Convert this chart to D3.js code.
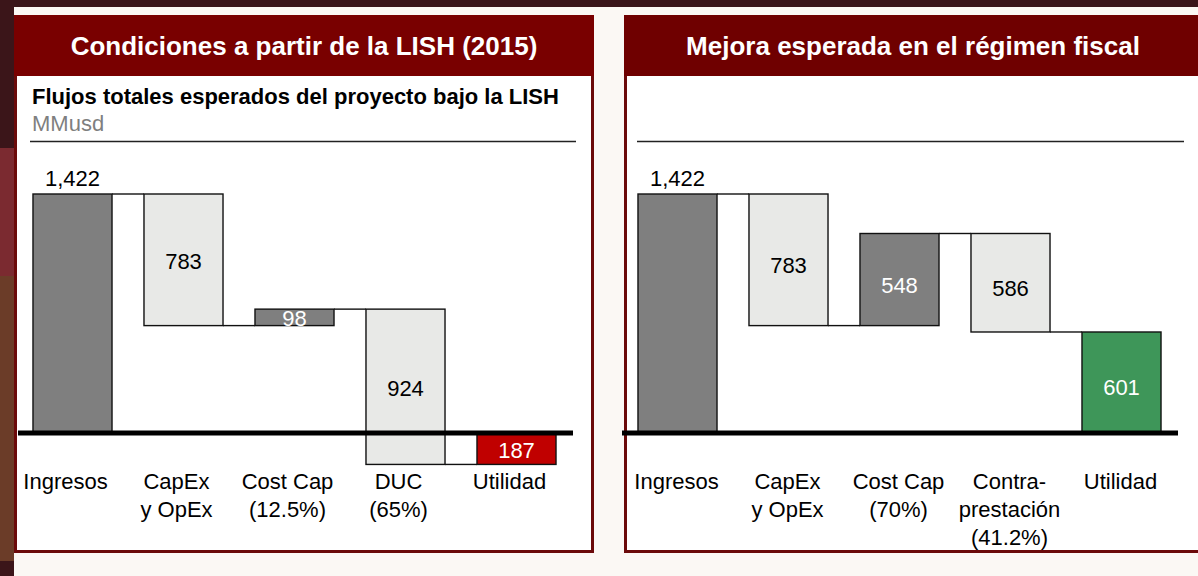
<!DOCTYPE html>
<html>
<head>
<meta charset="utf-8">
<script src="https://cdn.jsdelivr.net/npm/d3@7"></script>
<style>
  html, body { margin: 0; padding: 0; background: #fbf8f4; }
  svg { display: block; font-family: "Liberation Sans", Arial, sans-serif; }
</style>
</head>
<body>
<div id="chart"></div>
<script>
(function(){
// ---- data (MMusd) ----
const leftCategories = [["Ingresos"], ["CapEx", "y OpEx"], ["Cost Cap", "(12.5%)"], ["DUC", "(65%)"], ["Utilidad"]];
const leftValues = [1422, -783, 98, -924, -187];   // last one is the total
const leftLabels = ["1,422", "783", "98", "924", "187"];

const rightCategories = [["Ingresos"], ["CapEx", "y OpEx"], ["Cost Cap", "(70%)"], ["Contra-", "prestación", "(41.2%)"], ["Utilidad"]];
const rightValues = [1422, -783, 548, -586, 601];
const rightLabels = ["1,422", "783", "548", "586", "601"];

const leftColors = ["#7f7f7f", "#e8e9e7", "#7f7f7f", "#e8e9e7", "#c00000"];
const rightColors = ["#7f7f7f", "#e8e9e7", "#7f7f7f", "#e8e9e7", "#3e9659"];
const leftLabelColors = ["#000", "#000", "#fff", "#000", "#fff"];
const rightLabelColors = ["#000", "#000", "#fff", "#000", "#fff"];

const W = 1198, H = 576;

const svg = d3.select("#chart").append("svg")
    .attr("width", W)
    .attr("height", H);

// background bits of the slide
svg.append("rect").attr("width", W).attr("height", H).attr("fill", "#fbf8f4");
svg.append("rect").attr("width", W).attr("height", 7).attr("fill", "#3a1519");
svg.append("rect").attr("x", 0).attr("y", 0).attr("width", 14).attr("height", 148).attr("fill", "#3b1519");
svg.append("rect").attr("x", 0).attr("y", 148).attr("width", 14).attr("height", 128).attr("fill", "#7b2a30");
svg.append("rect").attr("x", 0).attr("y", 276).attr("width", 14).attr("height", 285).attr("fill", "#6b3c28");
svg.append("rect").attr("x", 0).attr("y", 561).attr("width", 14).attr("height", 15).attr("fill", "#3b1519");

// y scale shared by both panels (same zero line)
const y = d3.scaleLinear().domain([0, 1422]).range([433, 194]);

function panel(opt) {
    const g = svg.append("g");

    // frame and header
    g.append("rect")
        .attr("x", opt.x0 + 1.5).attr("y", 16.5)
        .attr("width", opt.w - 3).attr("height", 535)
        .attr("fill", "#fff")
        .attr("stroke", "#6b0a0a").attr("stroke-width", 3);
    g.append("rect")
        .attr("x", opt.x0).attr("y", 15)
        .attr("width", opt.w).attr("height", 61)
        .attr("fill", opt.headColor);
    g.append("text")
        .attr("x", opt.titleX).attr("y", 55)
        .attr("text-anchor", "middle")
        .attr("fill", "#fff")
        .style("font-weight", "bold")
        .style("font-size", "26px")
        .text(opt.title);

    if (opt.subtitle) {
        g.append("text")
            .attr("x", opt.x0 + 18).attr("y", 104)
            .style("font-weight", "bold").style("font-size", "22px")
            .attr("fill", "#000")
            .text(opt.subtitle);
        g.append("text")
            .attr("x", opt.x0 + 18).attr("y", 131)
            .style("font-size", "22px")
            .attr("fill", "#7f7f7f")
            .text("MMusd");
    }
    g.append("line")
        .attr("x1", opt.ruleX[0]).attr("x2", opt.ruleX[1])
        .attr("y1", 141.5).attr("y2", 141.5)
        .attr("stroke", "#222").attr("stroke-width", 1.3);

    // waterfall
    const x = d3.scaleBand()
        .domain(d3.range(opt.values.length))
        .range(opt.range)
        .paddingInner(0.288)
        .paddingOuter(0.144);

    const last = opt.values.length - 1;
    let run = 0;
    const steps = opt.values.map(function(v, i) {
        let s;
        if (i === 0) { s = { from: 0, to: v }; run = v; }
        else if (i === last) { s = { from: 0, to: v }; }
        else { s = { from: run, to: run + v }; run += v; }
        return s;
    });

    // connectors
    steps.slice(0, last).forEach(function(s, i) {
        const lvl = s.to;
        g.append("line")
            .attr("x1", x(i) + x.bandwidth()).attr("x2", x(i + 1))
            .attr("y1", y(lvl)).attr("y2", y(lvl))
            .attr("stroke", "#111").attr("stroke-width", 1.4);
    });

    g.selectAll("rect.bar")
        .data(steps)
        .join("rect")
        .attr("class", "bar")
        .attr("x", function(d, i) { return x(i); })
        .attr("y", function(d) { return y(Math.max(d.from, d.to)); })
        .attr("width", x.bandwidth())
        .attr("height", function(d) { return Math.abs(y(d.from) - y(d.to)); })
        .attr("fill", function(d, i) { return opt.colors[i]; })
        .attr("stroke", "#111")
        .attr("stroke-width", 1.4);

    // zero line
    g.append("line")
        .attr("x1", opt.axisX[0]).attr("x2", opt.axisX[1])
        .attr("y1", y(0)).attr("y2", y(0))
        .attr("stroke", "#000").attr("stroke-width", 5);

    // value labels
    g.selectAll("text.val")
        .data(steps)
        .join("text")
        .attr("class", "val")
        .attr("x", function(d, i) { return x(i) + x.bandwidth() / 2; })
        .attr("y", function(d, i) {
            if (i === 0) return y(d.to) - 8;
            return (y(d.from) + y(d.to)) / 2 + opt.valDy;
        })
        .attr("text-anchor", "middle")
        .attr("fill", function(d, i) { return opt.labelColors[i]; })
        .style("font-size", "22px")
        .text(function(d, i) { return opt.labels[i]; });

    // category labels
    const cat = g.selectAll("text.cat")
        .data(opt.categories)
        .join("text")
        .attr("class", "cat")
        .attr("text-anchor", "middle")
        .attr("fill", "#000")
        .style("font-size", "22px");
    cat.each(function(lines, i) {
        d3.select(this).selectAll("tspan")
            .data(lines)
            .join("tspan")
            .attr("x", x(i) + x.bandwidth() / 2 + opt.catDx)
            .attr("y", function(l, j) { return 489 + j * 28; })
            .text(function(l) { return l; });
    });
}

panel({
    x0: 14, w: 580, headColor: "#790000", titleX: 304,
    title: "Condiciones a partir de la LISH (2015)",
    subtitle: "Flujos totales esperados del proyecto bajo la LISH",
    ruleX: [30, 576], axisX: [18, 573], range: [17, 572],
    catDx: -7, valDy: 9,
    values: leftValues, labels: leftLabels, categories: leftCategories,
    colors: leftColors, labelColors: leftLabelColors
});

panel({
    x0: 624, w: 590, headColor: "#6f0000", titleX: 913,
    title: "Mejora esperada en el régimen fiscal",
    subtitle: null,
    ruleX: [637, 1184], axisX: [622, 1178], range: [622, 1177],
    catDx: -1, valDy: 13,
    values: rightValues, labels: rightLabels, categories: rightCategories,
    colors: rightColors, labelColors: rightLabelColors
});
})();
</script>
</body>
</html>
